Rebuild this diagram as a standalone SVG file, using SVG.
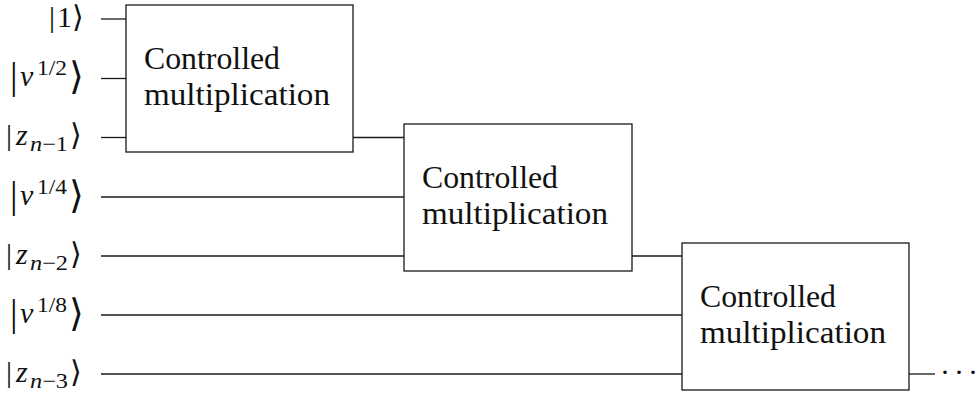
<svg xmlns="http://www.w3.org/2000/svg" width="978" height="395" viewBox="0 0 978 395">
<style>
.qc-box{fill:#fff;stroke:#1a1a1a;stroke-width:1.3}
.qc-wire{stroke:#1a1a1a;stroke-width:1.3;fill:none}
.qc-gate{font-family:'Liberation Serif',serif;font-size:31px;fill:#111}
.qc-ket{font-family:'Liberation Serif',serif;font-size:30px;fill:#111}
.qc-it{font-style:italic}
.qc-sc{font-size:21px}
.qc-big{font-size:38px}
</style>
<rect width="978" height="395" fill="#fff"/>
<g id="connectors">
<line class="qc-wire" x1="101" y1="19" x2="126" y2="19"/>
<line class="qc-wire" x1="101" y1="78.5" x2="126" y2="78.5"/>
<line class="qc-wire" x1="101" y1="137.5" x2="126" y2="137.5"/>
<line class="qc-wire" x1="353" y1="137.5" x2="404" y2="137.5"/>
<line class="qc-wire" x1="101" y1="197" x2="404" y2="197"/>
<line class="qc-wire" x1="101" y1="256" x2="404" y2="256"/>
<line class="qc-wire" x1="632" y1="256" x2="682" y2="256"/>
<line class="qc-wire" x1="101" y1="315" x2="682" y2="315"/>
<line class="qc-wire" x1="101" y1="374" x2="682" y2="374"/>
<line class="qc-wire" x1="909" y1="374" x2="935" y2="374"/>
</g>
<g id="box1">
<rect class="qc-box" x="126" y="5" width="227" height="147"/>
<text class="qc-gate" x="144" y="69" textLength="136" lengthAdjust="spacingAndGlyphs">Controlled</text>
<text class="qc-gate" x="144" y="105" textLength="186" lengthAdjust="spacingAndGlyphs">multiplication</text>
</g>
<g id="box2">
<rect class="qc-box" x="404" y="124" width="228" height="147"/>
<text class="qc-gate" x="422" y="188" textLength="136" lengthAdjust="spacingAndGlyphs">Controlled</text>
<text class="qc-gate" x="422" y="224" textLength="186" lengthAdjust="spacingAndGlyphs">multiplication</text>
</g>
<g id="box3">
<rect class="qc-box" x="682" y="243" width="227" height="147"/>
<text class="qc-gate" x="700" y="307" textLength="136" lengthAdjust="spacingAndGlyphs">Controlled</text>
<text class="qc-gate" x="700" y="343" textLength="186" lengthAdjust="spacingAndGlyphs">multiplication</text>
</g>
<g id="in1">
<text class="qc-ket" x="49" y="27">|</text>
<text class="qc-ket" x="57" y="27">1</text>
<text class="qc-ket" x="72" y="27">⟩</text>
</g>
<g id="in2">
<text class="qc-ket qc-big" x="10" y="89">|</text>
<text class="qc-ket qc-it" x="20" y="86">v</text>
<text class="qc-ket qc-sc" x="37" y="75" textLength="30" lengthAdjust="spacingAndGlyphs">1/2</text>
<text class="qc-ket qc-big" x="69" y="89">⟩</text>
</g>
<g id="in3">
<text class="qc-ket" x="6" y="145">|</text>
<text class="qc-ket qc-it" x="16" y="145">z</text>
<text class="qc-ket qc-sc" x="30" y="151" textLength="38" lengthAdjust="spacingAndGlyphs"><tspan class="qc-it">n</tspan>−1</text>
<text class="qc-ket" x="70" y="145">⟩</text>
</g>
<g id="in4">
<text class="qc-ket qc-big" x="10" y="207.5">|</text>
<text class="qc-ket qc-it" x="20" y="204.5">v</text>
<text class="qc-ket qc-sc" x="37" y="193.5" textLength="30" lengthAdjust="spacingAndGlyphs">1/4</text>
<text class="qc-ket qc-big" x="69" y="207.5">⟩</text>
</g>
<g id="in5">
<text class="qc-ket" x="6" y="263.5">|</text>
<text class="qc-ket qc-it" x="16" y="263.5">z</text>
<text class="qc-ket qc-sc" x="30" y="269.5" textLength="38" lengthAdjust="spacingAndGlyphs"><tspan class="qc-it">n</tspan>−2</text>
<text class="qc-ket" x="70" y="263.5">⟩</text>
</g>
<g id="in6">
<text class="qc-ket qc-big" x="10" y="325.5">|</text>
<text class="qc-ket qc-it" x="20" y="322.5">v</text>
<text class="qc-ket qc-sc" x="37" y="311.5" textLength="30" lengthAdjust="spacingAndGlyphs">1/8</text>
<text class="qc-ket qc-big" x="69" y="325.5">⟩</text>
</g>
<g id="in7">
<text class="qc-ket" x="6" y="381.5">|</text>
<text class="qc-ket qc-it" x="16" y="381.5">z</text>
<text class="qc-ket qc-sc" x="30" y="387.5" textLength="38" lengthAdjust="spacingAndGlyphs"><tspan class="qc-it">n</tspan>−3</text>
<text class="qc-ket" x="70" y="381.5">⟩</text>
</g>
<text class="qc-ket" x="945 959 973" y="382" text-anchor="middle">···</text>
</svg>
